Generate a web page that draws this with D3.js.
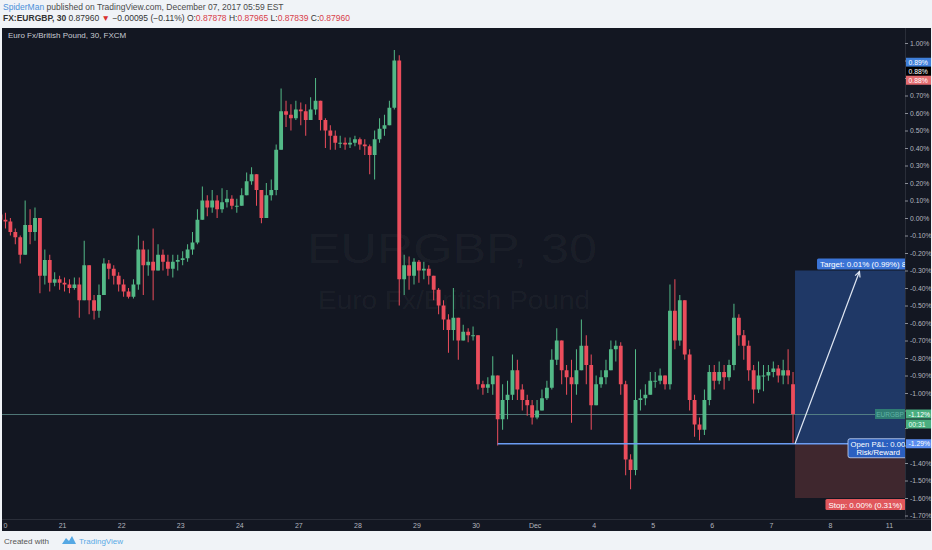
<!DOCTYPE html>
<html><head><meta charset="utf-8">
<script src="https://cdn.jsdelivr.net/npm/d3@7"></script>
<style>
html,body{margin:0;padding:0;background:#f0f3f7;}
svg{display:block;font-family:"Liberation Sans",Arial,sans-serif;}
</style></head><body>
<svg id="c" width="932" height="550"></svg>
<script>
// ---------- data ----------
const dayLabels = ["20","21","22","23","24","27","28","29","30","Dec","4","5","6","7","8","11"];
const pctTicks = [1.10,1.00,0.90,0.80,0.70,0.60,0.50,0.40,0.30,0.20,0.10,0.00,-0.10,-0.20,-0.30,-0.40,-0.50,-0.60,-0.70,-0.80,-0.90,-1.00,-1.10,-1.20,-1.30,-1.40,-1.50,-1.60,-1.70];
// 2-hour candles, values in % from base price
const opens = [0.02,-0.01,-0.02,-0.08,-0.11,-0.21,-0.04,-0.08,0.00,-0.33,
 -0.24,-0.37,-0.35,-0.37,-0.38,-0.40,-0.38,-0.47,-0.27,-0.47,
 -0.53,-0.44,-0.26,-0.29,-0.33,-0.38,-0.42,-0.45,-0.38,-0.18,
 -0.27,-0.25,-0.30,-0.21,-0.25,-0.29,-0.25,-0.24,-0.23,-0.18,
 -0.14,-0.01,0.10,0.06,0.10,0.05,0.09,0.11,0.07,0.07,
 0.13,0.21,0.25,0.16,0.00,0.13,0.16,0.39,0.61,0.59,
 0.57,0.62,0.61,0.56,0.62,0.67,0.56,0.50,0.47,0.43,
 0.43,0.42,0.43,0.45,0.42,0.41,0.36,0.45,0.51,0.53,
 0.63,0.90,-0.35,-0.27,-0.33,-0.25,-0.30,-0.29,-0.33,-0.41,
 -0.50,-0.58,-0.64,-0.57,-0.70,-0.65,-0.67,-0.67,-0.95,-0.97,
 -0.95,-0.90,-1.15,-1.04,-1.01,-0.87,-0.98,-1.04,-1.07,-1.14,
 -1.10,-1.03,-0.97,-0.81,-0.70,-0.87,-0.91,-0.95,-0.87,-0.73,
 -0.84,-1.07,-0.95,-0.91,-0.87,-0.75,-0.73,-0.95,-1.38,-1.44,
 -1.04,-1.03,-1.01,-0.93,-0.93,-0.90,-0.95,-0.53,-0.70,-0.47,
 -0.78,-1.04,-1.18,-1.21,-1.04,-0.88,-0.93,-0.88,-0.91,-0.84,
 -0.57,-0.67,-0.73,-0.87,-0.98,-0.90,-0.90,-0.88,-0.86,-0.90,
 -0.87,-0.95];
const highs = [0.05,0.03,0.00,-0.06,-0.10,0.10,0.05,0.06,-0.01,-0.18,
 -0.21,-0.31,-0.33,-0.34,-0.35,-0.34,-0.34,-0.13,-0.30,-0.44,
 -0.38,-0.23,-0.24,-0.27,-0.31,-0.35,-0.40,-0.35,-0.10,-0.13,
 -0.18,-0.06,-0.15,-0.18,-0.21,-0.21,-0.21,-0.19,-0.15,-0.08,
 0.05,0.18,0.13,0.16,0.13,0.17,0.16,0.13,0.11,0.17,
 0.26,0.29,0.25,0.16,0.20,0.22,0.42,0.74,0.67,0.65,
 0.67,0.66,0.65,0.69,0.80,0.67,0.57,0.53,0.50,0.47,
 0.46,0.46,0.47,0.46,0.45,0.42,0.50,0.57,0.59,0.67,
 0.96,0.93,-0.21,-0.22,-0.23,-0.24,-0.25,-0.27,-0.33,-0.40,
 -0.47,-0.55,-0.40,-0.61,-0.61,-0.63,-0.62,-0.67,-0.93,-0.91,
 -0.79,-0.90,-0.95,-0.93,-0.78,-0.81,-0.95,-1.01,-1.04,-1.04,
 -0.98,-0.93,-0.75,-0.63,-0.70,-0.84,-0.81,-0.75,-0.58,-0.67,
 -0.78,-0.90,-0.87,-0.81,-0.70,-0.70,-0.71,-0.93,-1.35,-0.75,
 -0.98,-0.95,-0.88,-0.88,-0.86,-0.90,-0.38,-0.35,-0.44,-0.47,
 -0.75,-1.01,-1.14,-0.98,-0.84,-0.84,-0.82,-0.84,-0.81,-0.49,
 -0.55,-0.64,-0.70,-0.84,-0.82,-0.84,-0.84,-0.82,-0.84,-0.81,
 -0.75,-0.88];
const lows = [-0.04,-0.06,-0.10,-0.15,-0.26,-0.18,-0.15,-0.13,-0.43,-0.38,
 -0.42,-0.39,-0.41,-0.42,-0.43,-0.41,-0.57,-0.47,-0.55,-0.58,
 -0.57,-0.44,-0.35,-0.38,-0.42,-0.45,-0.46,-0.46,-0.41,-0.44,
 -0.33,-0.47,-0.30,-0.30,-0.33,-0.34,-0.30,-0.27,-0.25,-0.21,
 -0.15,0.02,0.01,0.03,0.00,0.03,0.06,0.05,0.03,0.07,
 0.15,0.19,0.07,-0.03,0.07,0.10,0.13,0.39,0.52,0.50,
 0.56,0.53,0.47,0.56,0.59,0.50,0.40,0.39,0.39,0.40,
 0.39,0.40,0.41,0.39,0.36,0.25,0.22,0.43,0.47,0.56,
 0.62,-0.50,-0.44,-0.41,-0.38,-0.37,-0.35,-0.38,-0.47,-0.55,
 -0.64,-0.77,-0.70,-0.81,-0.70,-0.71,-0.70,-0.98,-1.01,-1.00,
 -1.01,-1.30,-1.21,-1.15,-1.04,-1.04,-1.10,-1.13,-1.18,-1.15,
 -1.10,-1.04,-0.98,-0.84,-0.95,-1.01,-1.17,-1.01,-0.81,-0.95,
 -1.21,-1.01,-0.97,-0.95,-0.84,-0.82,-1.01,-1.47,-1.55,-1.47,
 -1.10,-1.07,-1.01,-0.97,-0.95,-0.98,-0.98,-0.75,-0.73,-0.81,
 -1.10,-1.25,-1.27,-1.24,-1.07,-0.98,-0.95,-0.98,-0.93,-0.87,
 -0.73,-0.81,-0.93,-1.06,-1.00,-0.99,-0.93,-0.91,-0.94,-0.95,
 -0.95,-1.29];
const closes = [-0.01,-0.02,-0.08,-0.11,-0.21,-0.04,-0.08,0.00,-0.33,-0.24,
 -0.37,-0.35,-0.37,-0.38,-0.40,-0.38,-0.47,-0.27,-0.47,-0.53,
 -0.44,-0.26,-0.29,-0.33,-0.38,-0.42,-0.45,-0.38,-0.18,-0.27,
 -0.25,-0.30,-0.21,-0.25,-0.29,-0.25,-0.24,-0.23,-0.18,-0.14,
 -0.01,0.10,0.06,0.10,0.05,0.09,0.11,0.07,0.07,0.13,
 0.21,0.25,0.16,0.00,0.13,0.16,0.39,0.61,0.59,0.57,
 0.62,0.61,0.56,0.62,0.67,0.56,0.50,0.47,0.43,0.43,
 0.42,0.43,0.45,0.42,0.41,0.36,0.45,0.51,0.53,0.63,
 0.90,-0.35,-0.27,-0.33,-0.25,-0.30,-0.29,-0.33,-0.41,-0.50,
 -0.58,-0.64,-0.57,-0.70,-0.65,-0.67,-0.67,-0.95,-0.97,-0.95,
 -0.90,-1.15,-1.04,-1.01,-0.87,-0.98,-1.04,-1.07,-1.14,-1.10,
 -1.03,-0.97,-0.81,-0.70,-0.87,-0.91,-0.95,-0.87,-0.73,-0.84,
 -1.07,-0.95,-0.91,-0.87,-0.75,-0.73,-0.95,-1.38,-1.44,-1.04,
 -1.03,-1.01,-0.93,-0.93,-0.90,-0.95,-0.53,-0.70,-0.47,-0.78,
 -1.04,-1.18,-1.21,-1.04,-0.88,-0.93,-0.88,-0.91,-0.84,-0.57,
 -0.67,-0.73,-0.87,-0.98,-0.90,-0.90,-0.88,-0.86,-0.90,-0.87,
 -0.90,-1.12];
const lastPct = -1.12, entryPct = -1.29, targetPct = -0.30, stopPct = -1.60;
const entryLineStartBar = 101;      // horizontal level drawn from this bar's low
const arrowEndDay = 14.5, toolLabelDay = 14.6;
const topTags = [{t:"0.89%",v:0.89,bg:"#3f7fd9",fg:"#fff"},{t:"0.88%",v:0.88,bg:"#000",fg:"#fff"},{t:"0.88%",v:0.88,bg:"#e36b6f",fg:"#fff"}];

// ---------- layout ----------
const W=932,H=550;
const P={l:2,t:28,r:931,b:531};
const plotR=905, plotB=519;
const upC="#53b987", dnC="#eb4d5c";
const svg=d3.select("#c");
const defs=svg.append("defs");
defs.append("clipPath").attr("id","plotClip").append("rect")
  .attr("x",P.l).attr("y",P.t).attr("width",plotR-P.l).attr("height",plotB-P.t);
defs.append("clipPath").attr("id","panelClip").append("rect")
  .attr("x",P.l).attr("y",P.t).attr("width",P.r-P.l).attr("height",P.b-P.t);
defs.append("clipPath").attr("id","xClip").append("rect")
  .attr("x",3.2).attr("y",plotB).attr("width",plotR-3.2).attr("height",P.b-plotB);

svg.append("rect").attr("width",W).attr("height",H).attr("fill","#f0f3f7");
svg.append("rect").attr("x",P.l).attr("y",P.t).attr("width",P.r-P.l).attr("height",P.b-P.t).attr("fill","#131722");

const x=d3.scaleLinear().domain([0,15]).range([3,889]);
const y=d3.scaleLinear().domain([-1.70,1.10]).range([515.5,25.5]);
const barDay=i=>(i-0.5)/12;
const step=x(1/12)-x(0);

const plot=svg.append("g").attr("clip-path","url(#plotClip)");

// watermark
plot.append("text").attr("x",452).attr("y",263).attr("text-anchor","middle")
  .attr("font-size",42).attr("textLength",290).attr("lengthAdjust","spacingAndGlyphs")
  .attr("fill","rgba(255,255,255,0.045)").text("EURGBP, 30");
plot.append("text").attr("x",454).attr("y",309).attr("text-anchor","middle")
  .attr("font-size",25).attr("textLength",272).attr("lengthAdjust","spacingAndGlyphs")
  .attr("fill","rgba(255,255,255,0.045)").text("Euro Fx/British Pound");

// risk/reward tool areas
const toolX0 = x(barDay(closes.length-1))+2;
plot.append("rect").attr("x",toolX0).attr("y",y(targetPct)).attr("width",plotR-toolX0).attr("height",y(entryPct)-y(targetPct)).attr("fill","#1f3866");
plot.append("rect").attr("x",toolX0).attr("y",y(entryPct)).attr("width",plotR-toolX0).attr("height",y(stopPct)-y(entryPct)).attr("fill","#3f272e");

// current price line
plot.append("line").attr("x1",P.l).attr("x2",plotR).attr("y1",y(lastPct)+0.5).attr("y2",y(lastPct)+0.5)
  .attr("stroke","#5f8f8c").attr("stroke-width",0.8);

// candles
const data=closes.map((c,i)=>({i,o:opens[i],h:highs[i],l:lows[i],c}));
const cg=plot.append("g");
const bw=step*0.78;
cg.selectAll("line.w").data(data).join("line").attr("class","w")
  .attr("x1",d=>x(barDay(d.i))).attr("x2",d=>x(barDay(d.i)))
  .attr("y1",d=>y(Math.max(d.h,d.o,d.c))).attr("y2",d=>y(Math.min(d.l,d.o,d.c)))
  .attr("stroke",d=>d.c>=d.o?upC:dnC).attr("stroke-width",1);
cg.selectAll("rect.b").data(data).join("rect").attr("class","b")
  .attr("x",d=>x(barDay(d.i))-bw/2).attr("width",bw)
  .attr("y",d=>y(Math.max(d.o,d.c))).attr("height",d=>Math.max(1,y(Math.min(d.o,d.c))-y(Math.max(d.o,d.c))))
  .attr("fill",d=>d.c>=d.o?upC:dnC);

// entry horizontal line
plot.append("line").attr("x1",x(barDay(entryLineStartBar))).attr("x2",plotR).attr("y1",y(entryPct)).attr("y2",y(entryPct))
  .attr("stroke","#6b9cf2").attr("stroke-width",1.5);

// arrow
const ax2=x(arrowEndDay), ay2=y(targetPct)+1;
plot.append("line").attr("x1",toolX0).attr("y1",y(entryPct)).attr("x2",ax2).attr("y2",ay2).attr("stroke","#dfe6f2").attr("stroke-width",1.2);
const ang=Math.atan2(ay2-y(entryPct),ax2-toolX0);
const ah=6;
plot.append("path").attr("d",`M${ax2-ah*Math.cos(ang-0.45)},${ay2-ah*Math.sin(ang-0.45)}L${ax2},${ay2}L${ax2-ah*Math.cos(ang+0.45)},${ay2-ah*Math.sin(ang+0.45)}`)
  .attr("fill","none").attr("stroke","#dfe6f2").attr("stroke-width",1.2);

// tool labels
const lc=x(toolLabelDay);
function toolLabel(text,cy,bg){
  const g=plot.append("g");
  const t=g.append("text").attr("x",lc).attr("y",cy+3).attr("text-anchor","middle").attr("font-size",8).attr("fill","#fff").text(text);
  const bb=t.node().getBBox();
  g.insert("rect","text").attr("x",bb.x-3).attr("y",cy-5.5).attr("width",bb.width+6).attr("height",11).attr("rx",1.5).attr("fill",bg);
}
toolLabel("Target: 0.01% (0.99%) 88",y(targetPct)-6.5,"#3b74d6");
toolLabel("Stop: 0.00% (0.31%)",y(stopPct)+6.5,"#e0575c");
// open P&L box
const pg=plot.append("g");
pg.append("rect").attr("x",848).attr("y",y(entryPct)-5).attr("width",60).attr("height",19).attr("rx",2)
  .attr("fill","#2a5fc0").attr("stroke","#c9d8f5").attr("stroke-width",0.8);
pg.append("text").attr("x",850.5).attr("y",y(entryPct)+3.5).attr("font-size",7.7).attr("fill","#fff").text("Open P&L: 0.00");
pg.append("text").attr("x",900).attr("y",y(entryPct)+11.5).attr("text-anchor","end").attr("font-size",7.7).attr("fill","#fff").text("Risk/Reward");

// symbol tag on price line
const sg=plot.append("g");
sg.append("rect").attr("x",875).attr("y",y(lastPct)-5).attr("width",30).attr("height",10).attr("fill","#2f7c73");
sg.append("text").attr("x",890).attr("y",y(lastPct)+2.5).attr("text-anchor","middle").attr("font-size",6.5).attr("fill","#5fb3a6").text("EURGBP");

// axes separators
const axg=svg.append("g").attr("clip-path","url(#panelClip)");
axg.append("line").attr("x1",plotR+0.5).attr("x2",plotR+0.5).attr("y1",P.t).attr("y2",plotB).attr("stroke","#2a2e39");
axg.append("line").attr("x1",P.l).attr("x2",P.r).attr("y1",plotB+0.5).attr("y2",plotB+0.5).attr("stroke","#2a2e39");

// tags on the right axis cover some tick labels (as in the original)
const tagYs=[...topTags.map((d,k)=>y(topTags[0].v)+k*9), y(lastPct), y(lastPct)+10, y(entryPct)];
const hidden=v=>tagYs.some(t=>Math.abs(y(v)-t)<8);

// right axis
const ra=axg.append("g").attr("transform",`translate(${plotR},0)`)
  .call(d3.axisRight(y).tickValues(pctTicks).tickSize(3).tickPadding(2).tickFormat(d=>hidden(d)?"":d.toFixed(2)+"%"));
ra.select(".domain").remove();
ra.selectAll("line").attr("stroke","#8a8d96");
ra.selectAll("text").attr("fill","#b2b5be").attr("font-size",6.8).attr("font-family","Liberation Sans, Arial, sans-serif");

// bottom axis
const ba=axg.append("g").attr("clip-path","url(#xClip)").append("g").attr("transform",`translate(0,${plotB})`)
  .call(d3.axisBottom(x).tickValues(d3.range(dayLabels.length)).tickSize(0).tickPadding(4).tickFormat(i=>dayLabels[i]));
ba.select(".domain").remove();
ba.selectAll("text").attr("fill","#b2b5be").attr("font-size",7).attr("font-family","Liberation Sans, Arial, sans-serif");

// axis tags
function axisTag(cy,text,bg,fg){
  const g=axg.append("g");
  g.append("rect").attr("x",plotR+1).attr("y",cy-4.5).attr("width",26).attr("height",9).attr("fill",bg);
  g.append("text").attr("x",plotR+3.5).attr("y",cy+2.5).attr("font-size",6.8).attr("fill",fg).text(text);
}
topTags.forEach((d,k)=>axisTag(tagYs[k],d.t,d.bg,d.fg));
axisTag(y(lastPct),lastPct.toFixed(2)+"%","#4aae7f","#fff");
axisTag(y(lastPct)+10,"00:31","#4aae7f","#e9fff3");
axisTag(y(entryPct),entryPct.toFixed(2)+"%","#5b8def","#fff");

// title in panel
svg.append("text").attr("x",8).attr("y",38).attr("font-size",8).attr("fill","#c8cbd3").text("Euro Fx/British Pound, 30, FXCM");

// header
const h1=svg.append("text").attr("x",3).attr("y",10).attr("font-size",8.5);
h1.append("tspan").attr("fill","#4a90d9").text("SpiderMan");
h1.append("tspan").attr("fill","#4a4a4a").text(" published on TradingView.com, December 07, 2017 05:59 EST");
const h2=svg.append("text").attr("x",3).attr("y",21).attr("font-size",8.5).attr("fill","#333");
h2.append("tspan").attr("font-weight","bold").text("FX:EURGBP, 30");
h2.append("tspan").text(" 0.87960 ");
h2.append("tspan").attr("fill","#d8302f").text("▼");
h2.append("tspan").text(" −0.00095 (−0.11%) O:");
h2.append("tspan").attr("fill","#d8404a").text("0.87878");
h2.append("tspan").text(" H:");
h2.append("tspan").attr("fill","#d8404a").text("0.87965");
h2.append("tspan").text(" L:");
h2.append("tspan").attr("fill","#d8404a").text("0.87839");
h2.append("tspan").text(" C:");
h2.append("tspan").attr("fill","#d8404a").text("0.87960");

// footer
svg.append("text").attr("x",4).attr("y",544).attr("font-size",8).attr("fill","#555").text("Created with");
const lg=svg.append("g").attr("transform","translate(62,536)").attr("fill","#55a8e4");
lg.append("path").attr("d","M0,8 L4,2 L7,5 L10,0 L14,8 Z");
svg.append("text").attr("x",79).attr("y",544).attr("font-size",8).attr("fill","#5aaae6").text("TradingView");
</script>
</body></html>
